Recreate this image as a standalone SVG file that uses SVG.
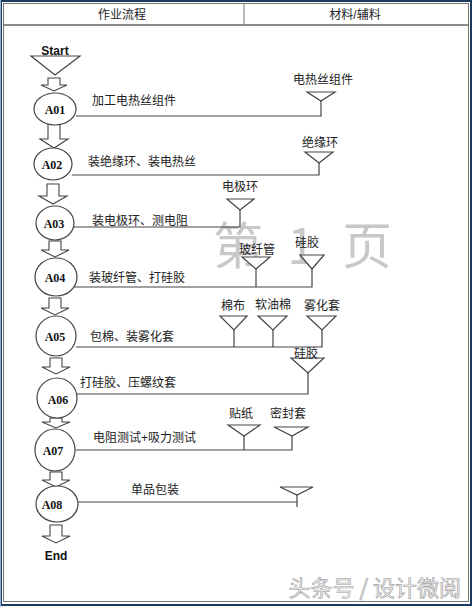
<svg xmlns="http://www.w3.org/2000/svg" width="473" height="607" viewBox="0 0 473 607">
<style>
.t{font-family:"Liberation Sans","Noto Sans CJK SC",sans-serif;font-size:12px;fill:#222}
.m{text-anchor:middle}
.id{font-family:"Liberation Serif","DejaVu Serif",serif;font-size:12px;font-weight:bold;fill:#111;text-anchor:middle}
.se{font-family:"Liberation Sans",Arial,sans-serif;font-size:12px;font-weight:bold;fill:#111;text-anchor:middle}
.ln{fill:none;stroke:#444;stroke-width:1.2}
.tri{fill:#fff;stroke:#444;stroke-width:1.2}
.el{fill:#fff;stroke:#444;stroke-width:1.2}
.ar{fill:#fff;stroke:#444;stroke-width:1.1}
.wm{font-family:"Noto Sans CJK SC",sans-serif;font-size:50px;fill:#c8c8c8}
.wm2{font-family:"Noto Sans CJK SC",sans-serif;font-size:22px;fill:#f2f2f2;stroke:#9a9a9a;stroke-width:0.6}
</style>
<rect x="0" y="0" width="473" height="607" fill="#fff"/>
<rect x="1" y="1" width="470" height="604" fill="none" stroke="#1d3b60" stroke-width="2"/>
<line x1="0.5" y1="0" x2="0.5" y2="607" stroke="#8fb3d4" stroke-width="1"/>
<rect x="3.5" y="3.5" width="465" height="598" fill="none" stroke="#777" stroke-width="1"/>
<line x1="4" y1="25" x2="469" y2="25" stroke="#666" stroke-width="1.5"/>
<line x1="244" y1="4" x2="244" y2="25" stroke="#777" stroke-width="1"/>
<text class="t m" x="122" y="19">作业流程</text>
<text class="t m" x="355" y="19">材料/辅料</text>

<g id="watermarks">
<text class="wm" x="238" y="264" text-anchor="middle">第</text>
<text class="wm" x="301" y="264" text-anchor="middle">1</text>
<text class="wm" x="367" y="264" text-anchor="middle">页</text>
<text class="wm2" x="461" y="596" text-anchor="end">头条号 / 设计微阅</text>
</g>

<g id="connectors">
<path class="ar" d="M48,78 H60 V85 H67 L54,91 L41,85 H48 Z"/>
<path class="ar" d="M48,124 H60 V139 H68 L54,148 L40,139 H48 Z"/>
<path class="ar" d="M47,184 H59 V196 H67 L53,204 L39,196 H47 Z"/>
<path class="ar" d="M49,241 H61 V250 H69 L55,257 L41,250 H49 Z"/>
<path class="ar" d="M49,298 H61 V308 H69 L55,315 L41,308 H49 Z"/>
<path class="ar" d="M50,358 H62 V367 H70 L56,374 L42,367 H50 Z"/>
<path class="ar" d="M50,418 H62 V422 H70 L56,428 L42,422 H50 Z"/>
<path class="ar" d="M50,472 H62 V480 H70 L56,487 L42,480 H50 Z"/>
<path class="ar" d="M50,525 H62 V536 H70 L56,543 L42,536 H50 Z"/>

<path class="ln" d="M76,116 H321 V101"/>
<path class="ln" d="M72,175 H319 V163"/>
<path class="ln" d="M74,227 H240 V210"/>
<path class="ln" d="M67,287 H312 V269 M256,287 V269"/>
<path class="ln" d="M76,347 H322 V330 M234,347 V330 M273,347 V330"/>
<path class="ln" d="M77,394 H308 V373"/>
<path class="ln" d="M76,450 H292 V436 M244,450 V436"/>
<path class="ln" d="M78,502 H297 M297,495 V507"/>
</g>

<g id="start">
<text class="se" x="55" y="55">Start</text>
<polygon class="tri" points="31,56 80,56 55,75"/>
</g>

<g id="A01">
<ellipse class="el" cx="55" cy="109" rx="21" ry="16"/>
<text class="id" x="55" y="114">A01</text>
<text class="t" x="92" y="105">加工电热丝组件</text>
</g>
<g id="m-A01">
<text class="t m" x="323" y="84">电热丝组件</text>
<polygon class="tri" points="307,92 335,92 321,101"/>
</g>

<g id="A02">
<ellipse class="el" cx="53" cy="164" rx="19" ry="16"/>
<text class="id" x="52" y="169">A02</text>
<text class="t" x="88" y="166">装绝缘环、装电热丝</text>
</g>
<g id="m-A02">
<text class="t m" x="320" y="147">绝缘环</text>
<polygon class="tri" points="305,152 333,152 319,163"/>
</g>

<g id="A03">
<ellipse class="el" cx="55" cy="223" rx="19" ry="17"/>
<text class="id" x="54" y="228">A03</text>
<text class="t" x="92" y="225">装电极环、测电阻</text>
</g>
<g id="m-A03">
<text class="t m" x="240" y="191">电极环</text>
<polygon class="tri" points="227,199 254,199 240,210"/>
</g>

<g id="A04">
<ellipse class="el" cx="56" cy="277" rx="21" ry="19"/>
<text class="id" x="55" y="282">A04</text>
<text class="t" x="89" y="282">装玻纤管、打硅胶</text>
</g>
<g id="m-A04">
<text class="t m" x="257" y="254">玻纤管</text>
<polygon class="tri" points="242,257 270,257 256,269"/>
<text class="t m" x="307" y="247">硅胶</text>
<polygon class="tri" points="300,255 324,255 312,269"/>
</g>

<g id="A05">
<ellipse class="el" cx="56" cy="336" rx="20" ry="20"/>
<text class="id" x="55" y="341">A05</text>
<text class="t" x="90" y="341">包棉、装雾化套</text>
</g>
<g id="m-A05">
<text class="t m" x="233" y="310">棉布</text>
<polygon class="tri" points="220,316 247,316 234,330"/>
<text class="t m" x="273" y="309">软油棉</text>
<polygon class="tri" points="258,316 287,316 273,330"/>
<text class="t m" x="322" y="310">雾化套</text>
<polygon class="tri" points="307,316 336,316 322,330"/>
</g>

<g id="A06">
<ellipse class="el" cx="57" cy="398" rx="20" ry="20"/>
<text class="id" x="58" y="404">A06</text>
<text class="t" x="80" y="387">打硅胶、压螺纹套</text>
</g>
<g id="m-A06">
<polygon class="tri" points="291,358 324,358 308,373"/>
<text class="t m" x="306" y="358">硅胶</text>
</g>

<g id="A07">
<ellipse class="el" cx="55" cy="450" rx="20" ry="21"/>
<text class="id" x="53" y="455">A07</text>
<text class="t" x="93" y="442">电阻测试+吸力测试</text>
</g>
<g id="m-A07">
<text class="t m" x="241" y="418">贴纸</text>
<polygon class="tri" points="228,425 260,425 244,436"/>
<text class="t m" x="288" y="418">密封套</text>
<polygon class="tri" points="274,427 308,427 292,436"/>
</g>

<g id="A08">
<ellipse class="el" cx="57" cy="504" rx="21" ry="18"/>
<text class="id" x="52" y="509">A08</text>
<text class="t" x="131" y="494">单品包装</text>
</g>
<g id="m-A08">
<polygon class="tri" points="280,487 313,487 297,495"/>
</g>

<g id="end">
<text class="se" x="56" y="560">End</text>
</g>
</svg>
